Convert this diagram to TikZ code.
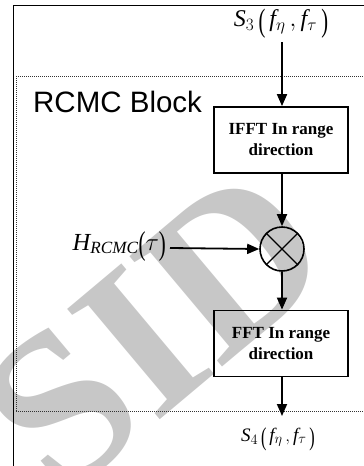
\documentclass[tikz,border=0pt]{standalone}
\usepackage{fontspec}
\usepackage{graphicx}
\setmainfont{Liberation Serif}
\setsansfont{Liberation Sans}
\usetikzlibrary{arrows.meta}

\tikzset{
  frameline/.style={line width=1.8pt, black},
  dotline/.style={line width=0.7pt, black!80, dash pattern=on 1pt off 1pt},
  procbox/.style={draw, line width=1.8pt, minimum width=134pt, minimum height=66pt,
    align=center, inner sep=2pt, font=\fontsize{17}{21}\selectfont\bfseries},
  flow/.style={line width=1.8pt, -{Triangle[length=12pt,width=10pt]}},
  mixer/.style={draw, circle, line width=1.6pt, minimum size=44pt, inner sep=0pt},
  mathlabel/.style={inner sep=0pt},
}

% tall, narrow parentheses
\newcommand{\tallopen}{\mathopen{\raisebox{-0.2em}{\scalebox{0.85}[1.35]{(}}}}
\newcommand{\tallclose}{\mathclose{\raisebox{-0.2em}{\scalebox{0.85}[1.35]{)}}}}
% signal name S_k(f_eta, f_tau)
\newcommand{\signame}[1]{$\mathit{S}_{#1}\,\tallopen\,\mathit{f}_{\eta}\,,\mathit{f}_{\tau}\,\tallclose$}

\begin{document}
\begin{tikzpicture}[x=1pt,y=1pt]
\useasboundingbox (0,0) rectangle (364,-466);

% watermark lettering in the background
\node[text=black!22, rotate=40, inner sep=0pt,
  font=\fontsize{220}{220}\selectfont\bfseries] (mark) at (155,-330) {SID};

% outer frame and the dotted outline of the block
\draw[frameline] (13.5,-466) -- (13.5,-5.5) -- (364,-5.5);
\draw[dotline] (16,-76) -- (364,-76);
\draw[dotline] (16,-411) -- (364,-411);
\draw[dotline] (16.5,-76) -- (16.5,-411);

\node[font=\sffamily\fontsize{29.5}{31}\selectfont, anchor=west, inner sep=0pt]
  (title) at (33,-102) {RCMC Block};

% signal path
\node[mathlabel, font=\fontsize{24}{26}\selectfont] (sin) at (281,-24) {\signame{3}};
\node[procbox] (ifft) at (281,-140) {IFFT In range\\direction};
\node[mixer] (mul) at (282,-249) {};
\draw[line width=1.4pt] (mul.north west) -- (mul.south east);
\draw[line width=1.4pt] (mul.north east) -- (mul.south west);
\node[procbox] (fft) at (281,-343.5) {FFT In range\\direction};
\node[mathlabel, font=\fontsize{19}{21}\selectfont] (sout) at (278,-439) {\signame{4}};
\node[mathlabel, font=\fontsize{24.5}{26}\selectfont, anchor=east] (hf) at (166,-247)
  {$\mathit{H}_{\mathit{RCMC}}\tallopen\tau\tallclose$};

\coordinate (sinend) at (282,-42);
\coordinate (outend) at (282,-416);
\coordinate (hstart) at (170,-248);
\draw[flow] (sinend) -- (ifft.north -| sinend);
\draw[flow] (ifft.south -| mul) -- (mul.north);
\draw[flow] (mul.south) -- (fft.north -| mul);
\draw[flow] (fft.south -| mul) -- (outend);
\draw[flow] (hstart) -- (mul.west);
\end{tikzpicture}
\end{document}
